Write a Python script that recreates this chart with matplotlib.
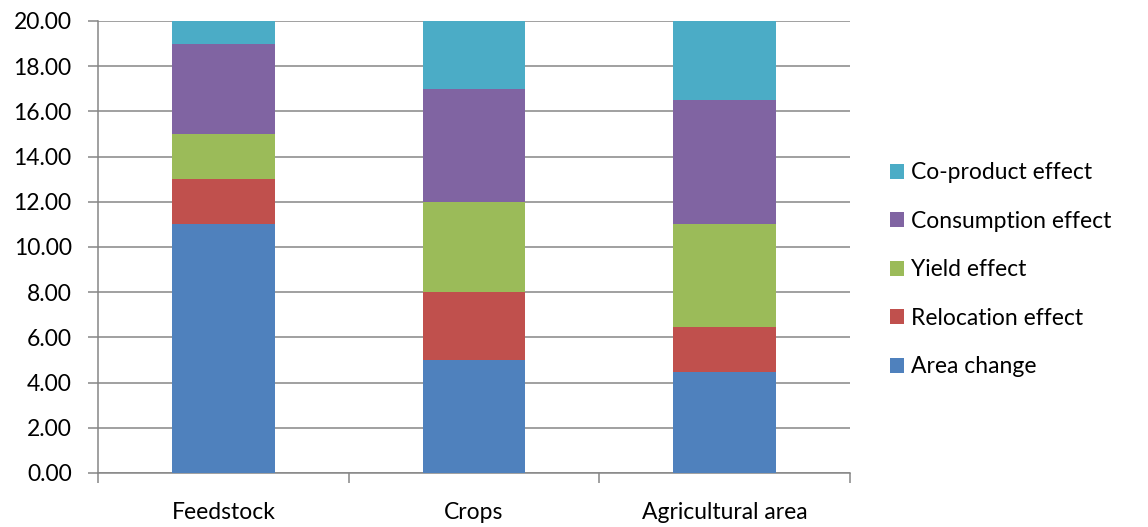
import numpy as np
import matplotlib
matplotlib.use('Agg')
import matplotlib.pyplot as plt

plt.rcParams['font.family'] = ['Lato', 'DejaVu Sans']

categories = ['Feedstock', 'Crops', 'Agricultural area']
series_names = ['Area change', 'Relocation effect', 'Yield effect',
                'Consumption effect', 'Co-product effect']
area_change = [11.0, 5.0, 4.45]
relocation = [2.0, 3.0, 2.0]
yield_eff = [2.0, 4.0, 4.55]
consumption = [4.0, 5.0, 5.5]
coproduct = [1.0, 3.0, 3.5]
colors = ['#4F81BD', '#C0504D', '#9BBB59', '#8064A2', '#4BACC6']

grey = '#868686'

fig = plt.figure(figsize=(11.48, 5.27), dpi=100)
ax = fig.add_axes([0.0854, 0.1025, 0.655, 0.8577])

x = np.arange(len(categories))
bottom = np.zeros(len(categories))
handles = []
for name, vals, c in zip(series_names,
                         [area_change, relocation, yield_eff, consumption, coproduct],
                         colors):
	b = ax.bar(x, vals, width=0.41, bottom=bottom, color=c, label=name, zorder=3)
	handles.append(b)
	bottom = bottom + np.array(vals)

ax.set_xlim(-0.5, 2.5)
ax.set_ylim(0, 20)
ax.set_yticks(np.arange(0, 21, 2))
ax.set_yticklabels(['%.2f' % v for v in np.arange(0, 21, 2)])
ax.yaxis.grid(True, color=grey, linewidth=1.1, zorder=0)
ax.set_axisbelow(True)

ax.set_xticks(x)
ax.set_xticklabels(categories)
ax.set_xticks([-0.5, 0.5, 1.5, 2.5], minor=True)
ax.tick_params(axis='x', which='major', length=0, pad=21, labelsize=16.5)
ax.tick_params(axis='x', which='minor', length=7, color=grey, width=1.1)
ax.tick_params(axis='y', length=7, color=grey, width=1.1, labelsize=16.5, pad=12)

for s in ['top', 'right']:
	ax.spines[s].set_visible(False)
ax.spines['left'].set_color(grey)
ax.spines['bottom'].set_color(grey)
ax.spines['left'].set_linewidth(1.1)
ax.spines['bottom'].set_linewidth(1.1)

leg = fig.legend(handles[::-1], series_names[::-1], loc='center left',
                 bbox_to_anchor=(0.757, 0.488), frameon=False, fontsize=16.5,
                 handlelength=0.62, handleheight=0.62, handletextpad=0.3,
                 labelspacing=1.2)

fig.savefig('out.png', dpi=100)
